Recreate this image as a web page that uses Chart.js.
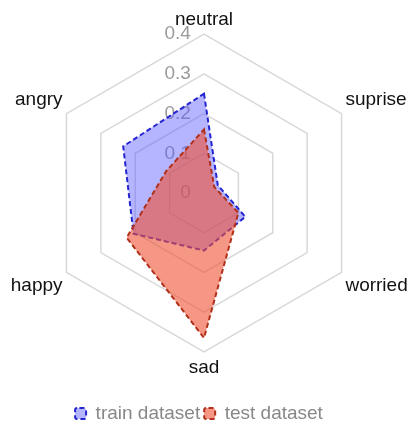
<!DOCTYPE html>
<html>
<head>
<meta charset="utf-8">
<script src="https://cdn.jsdelivr.net/npm/chart.js@4/dist/chart.umd.min.js"></script>
<style>
  html, body { margin: 0; padding: 0; background: #fff; }
  #wrap { width: 410px; height: 425px; }
</style>
</head>
<body>
<div id="wrap"><canvas id="radar"></canvas></div>
<script>
// emotion categories, clockwise from the top
const labels = ["neutral", "suprise", "worried", "sad", "happy", "angry"];
const trainValues = [0.25, 0.04, 0.12, 0.145, 0.205, 0.235];
const testValues = [0.16, 0.03, 0.10, 0.365, 0.225, 0.11];
const tickValues = [0, 0.1, 0.2, 0.3, 0.4];

Chart.defaults.font.family = "'Liberation Sans', Arial, sans-serif";

const ctx = document.getElementById('radar').getContext('2d');
new Chart(ctx, {
    type: 'radar',
    data: {
        labels: labels,
        datasets: [{
            label: 'train dataset',
            data: trainValues,
            backgroundColor: 'rgba(90, 90, 255, 0.45)',
            borderColor: '#2424d0',
            borderWidth: 2,
            borderDash: [5, 3],
            pointRadius: 0,
            order: 1
        }, {
            label: 'test dataset',
            data: testValues,
            backgroundColor: 'rgba(240, 80, 50, 0.6)',
            borderColor: '#b0301a',
            borderWidth: 2,
            borderDash: [5, 3],
            pointRadius: 0,
            order: 0   // drawn on top of train
        }]
    },
    options: {
        responsive: true,
        maintainAspectRatio: false,
        animation: false,
        layout: { padding: { top: 0, bottom: -8, left: -22, right: -10 } },
        plugins: {
            legend: {
                position: 'bottom',
                labels: {
                    sort: (a, b) => a.datasetIndex - b.datasetIndex,
                    boxWidth: 11,
                    boxHeight: 11,
                    useBorderRadius: true,
                    borderRadius: 2,
                    color: '#888',
                    font: { size: 19 },
                    padding: 4
                }
            },
            tooltip: { enabled: false }
        },
        scales: {
            r: {
                // tiny negative min so the "0" label at the centre is drawn
                min: -0.000001,
                max: 0.4,
                afterBuildTicks: function(scale) {
                    scale.ticks = tickValues.map(v => ({ value: v }));
                },
                // nudge the fit box so radius/centre land where the original has them
                beforeFit: function(scale) {
                    scale.left += 10;
                    scale.top -= 3;
                    scale.bottom -= 9;
                },
                angleLines: { display: false },
                grid: { color: '#d8d8d8', lineWidth: 1.5 },
                ticks: {
                    showLabelBackdrop: false,
                    backdropPadding: 0,
                    color: 'rgba(120, 120, 120, 0.75)',
                    font: { size: 19 },
                    // trailing spaces push the centred text left of the axis
                    callback: v => String(v) + ' '.repeat(v === 0 ? 7 : 10)
                },
                pointLabels: {
                    color: '#111',
                    font: { size: 19 },
                    // labels get extra room for tick text; take most of it back
                    padding: c => c.index === 0 ? -6 : -5
                }
            }
        }
    }
});
</script>
</body>
</html>
